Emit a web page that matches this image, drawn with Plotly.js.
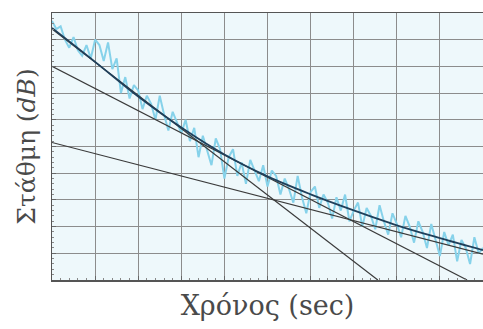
<!DOCTYPE html>
<html>
<head>
<meta charset="utf-8">
<script src="https://cdn.plot.ly/plotly-3.0.1.min.js"></script>
<style>
html,body{margin:0;padding:0;background:#fff;}
#chart{width:483px;height:329px;}
</style>
</head>
<body>
<div id="chart"></div>
<script>
var timeNoise = [];
for (var k = 0; k <= 100; k++) { timeNoise.push(k / 10); }
var levelNoise = [
  9.7, 9.4, 9.5, 9.0, 8.7, 9.1, 8.6, 8.4, 8.8, 8.3,
  9.0, 8.8, 8.2, 8.9, 7.9, 8.3, 7.0, 7.6, 6.8, 7.3,
  7.1, 6.4, 6.9, 6.6, 6.0, 6.9, 6.2, 5.6, 6.3, 5.9,
  5.5, 6.0, 5.2, 5.7, 4.6, 5.4, 4.8, 4.3, 5.3, 4.9,
  3.8, 4.6, 4.9, 3.9, 4.4, 3.6, 4.5, 4.1, 3.7, 4.3,
  3.5, 4.1, 3.9, 3.2, 3.8, 3.4, 2.9, 3.9, 3.1, 2.5,
  3.3, 3.5, 2.7, 3.2, 2.9, 2.3, 3.1, 2.6, 3.2, 2.2,
  2.6, 2.9, 2.0, 2.7, 2.4, 1.9, 2.8, 2.2, 1.7, 2.5,
  2.1, 1.6, 2.4, 2.0, 1.4, 2.2, 1.8, 1.2, 2.1, 1.5,
  0.9, 1.8, 1.3, 1.7, 0.7, 1.5, 1.2, 0.6, 1.6, 1.0,
  1.2
];

// Smooth fitted decay curve
var timeCurve  = [0, 1, 2, 3, 4, 5, 6, 7, 8, 9, 10];
var levelCurve = [9.44, 8.17, 6.87, 5.71, 4.70, 3.88, 3.21, 2.61, 2.05, 1.57, 1.12];

// Straight regression lines (endpoints)
var steepX   = [0, 7.56];
var steepY   = [9.4, 0];
var middleX  = [0, 9.63];
var middleY  = [8.0, 0];
var shallowX = [0, 10];
var shallowY = [5.15, 0.97];

var lineColor = '#3a3a3a';
var traces = [
  {x: timeNoise, y: levelNoise, mode: 'lines', line: {color: '#86d2ea', width: 2}, hoverinfo: 'skip'},
  {x: steepX, y: steepY, mode: 'lines', line: {color: lineColor, width: 1.2}},
  {x: middleX, y: middleY, mode: 'lines', line: {color: lineColor, width: 1.2}},
  {x: shallowX, y: shallowY, mode: 'lines', line: {color: lineColor, width: 1.2}},
  {x: timeCurve, y: levelCurve, mode: 'lines', line: {color: '#1f3f5a', width: 1.8, shape: 'spline'}}
];

var axisCommon = {
  range: [0, 10],
  dtick: 1,
  showgrid: true,
  gridcolor: '#8c8c8c',
  gridwidth: 1,
  zeroline: false,
  showline: true,
  linecolor: '#555555',
  linewidth: 1.5,
  mirror: true,
  ticks: 'inside',
  ticklen: 4,
  tickcolor: '#666666',
  showticklabels: false,
  minor: {ticks: 'inside', ticklen: 2, dtick: 0.2, tickcolor: '#888888', showgrid: false}
};

var titleFontX = {family: '"DejaVu Serif", "Liberation Serif", serif', size: 27, color: '#4a4a4a'};
var titleFontY = {family: '"DejaVu Serif", "Liberation Serif", serif', size: 25, color: '#4a4a4a'};

var layout = {
  width: 483,
  height: 329,
  margin: {l: 52, r: 0, t: 13, b: 49},
  paper_bgcolor: '#ffffff',
  plot_bgcolor: '#eef8fb',
  showlegend: false,
  xaxis: Object.assign({}, axisCommon, {
    title: {text: 'Χρόνος (sec)', standoff: 15, font: titleFontX}
  }),
  yaxis: Object.assign({}, axisCommon, {
    title: {text: 'Στάθμη (<i>dB</i>)', standoff: 8, font: titleFontY}
  })
};

Plotly.newPlot('chart', traces, layout, {staticPlot: true, displayModeBar: false});
</script>
</body>
</html>
